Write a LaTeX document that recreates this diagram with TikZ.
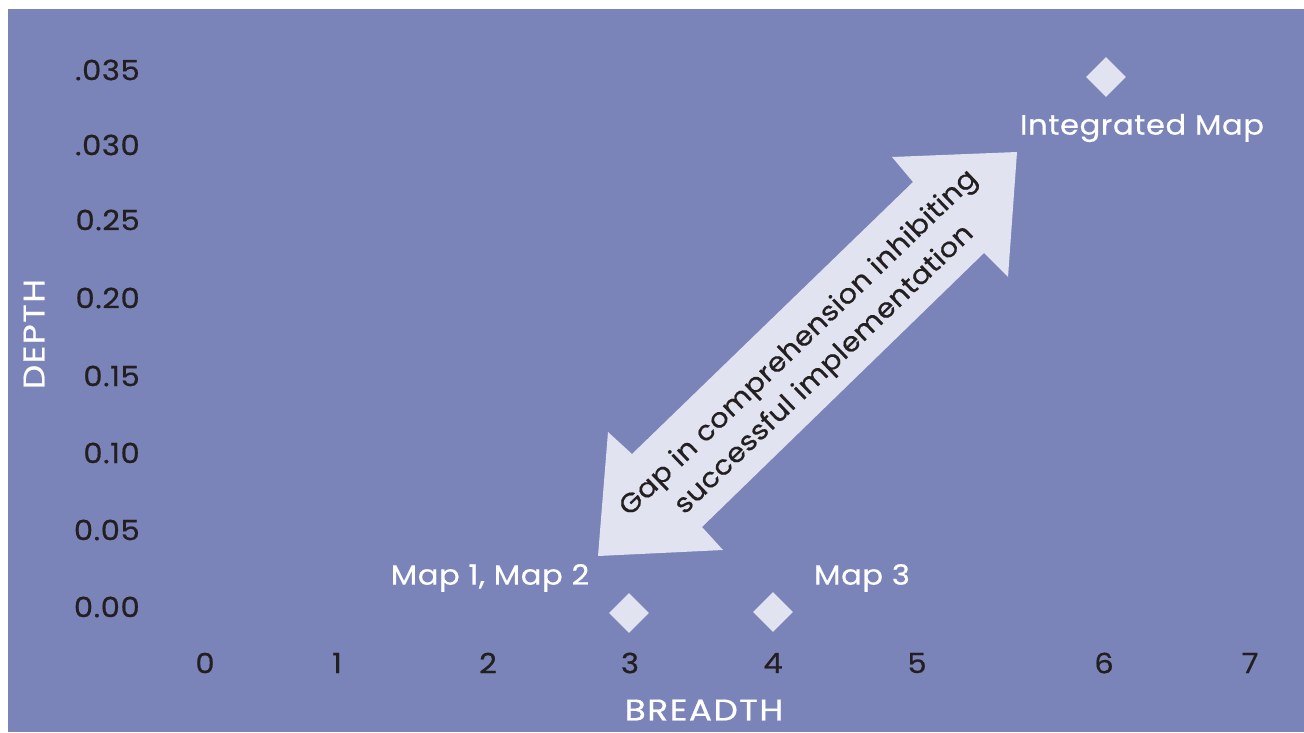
\documentclass[tikz,border=0pt]{standalone}
\usepackage{fontspec}
\setmainfont{Poppins}
\newfontfamily\labfont{Poppins}[LetterSpace=2,FakeStretch=1.1,FakeBold=0.6]
\newfontfamily\capsfont{Poppins}[LetterSpace=5,FakeStretch=1.15,FakeBold=0.6]
\newfontfamily\arrfont{Poppins}[LetterSpace=1.5,FakeStretch=1.08,FakeBold=0.6]
\usetikzlibrary{shapes.geometric}
\definecolor{bgpurple}{HTML}{7A84B8}
\definecolor{lightfill}{HTML}{E1E3F0}
\definecolor{darktext}{HTML}{231F20}
\tikzset{
  ticklab/.style={text=darktext, font=\labfont\fontsize{28}{32}\selectfont, inner sep=0pt},
  ylab/.style={ticklab, anchor=east},
  whitelab/.style={text=white, font=\labfont\fontsize{28}{32}\selectfont, inner sep=0pt},
  axistitle/.style={text=white, font=\capsfont\fontsize{30}{34}\selectfont, inner sep=0pt},
  marker/.style={diamond, fill=lightfill, minimum width=40bp, minimum height=40bp, inner sep=0pt},
}
\begin{document}
\begin{tikzpicture}[x=1bp,y=-1bp]
\useasboundingbox (0,0) rectangle (1304,732);
\fill[white] (0,0) rectangle (1304,732);
\fill[bgpurple] (8,9) rectangle (1304,732);
% y ticks
\node[ylab] (y35) at (140,70) {.035};
\node[ylab] (y30) at (140,145) {.030};
\node[ylab] (y25) at (140,220) {0.25};
\node[ylab] (y20) at (140,298) {0.20};
\node[ylab] (y15) at (140,376) {0.15};
\node[ylab] (y10) at (140,453) {0.10};
\node[ylab] (y05) at (140,530) {0.05};
\node[ylab] (y00) at (140,607) {0.00};
% x ticks
\node[ticklab] (x0) at (205,663) {0};
\node[ticklab] (x1) at (337,663) {1};
\node[ticklab] (x2) at (488,663) {2};
\node[ticklab] (x3) at (630,663) {3};
\node[ticklab] (x4) at (773,663) {4};
\node[ticklab] (x5) at (917,663) {5};
\node[ticklab] (x6) at (1104,663) {6};
\node[ticklab] (x7) at (1250,663) {7};
% axis titles
\node[axistitle, rotate=90] (depth) at (34,334) {DEPTH};
\node[axistitle] (breadth) at (704,710) {BREADTH};
% arrow
\fill[lightfill] (598,556) -- (608,432) -- (632,454) -- (913,182) -- (892,157) -- (1017,152)
  -- (1008,277) -- (984,253) -- (702,527) -- (723,550) -- cycle;
\node[text=darktext, font=\arrfont\fontsize{27}{37}\selectfont, align=center, rotate=44, inner sep=0pt] (gap) at (812,357)
  {Gap in comprehension inhibiting\\successful implementation};
% markers
\node[marker] (m12) at (629,613) {};
\node[marker] (m3) at (773,612) {};
\node[marker] (mi) at (1106,77) {};
\node[whitelab] (l12) at (490,578) {Map 1, Map 2};
\node[whitelab] (l3) at (862,578) {Map 3};
\node[whitelab] (li) at (1142,128) {Integrated Map};
\end{tikzpicture}
\end{document}
